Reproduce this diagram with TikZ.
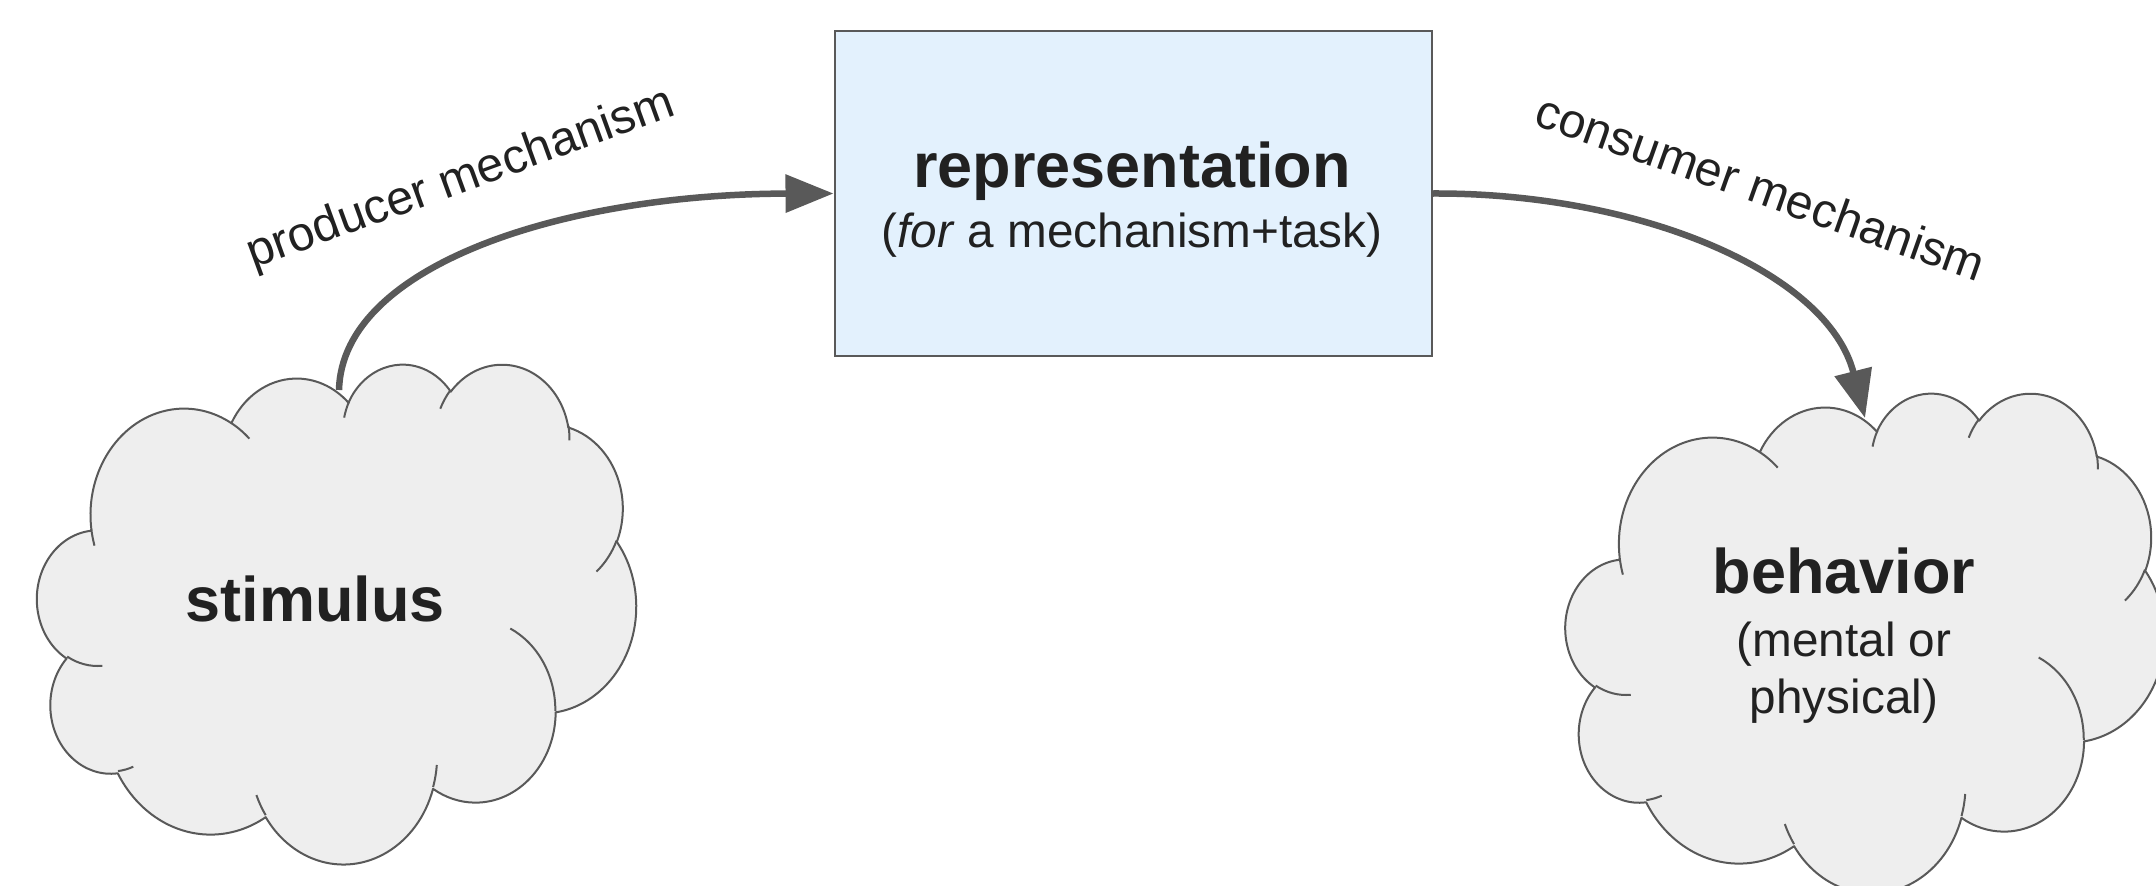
\documentclass[tikz,border=0pt]{standalone}
\usepackage{fontspec}
\setmainfont{Liberation Sans}
\usetikzlibrary{arrows.meta}
\definecolor{linegray}{HTML}{595959}
\definecolor{cloudfill}{HTML}{EEEEEE}
\definecolor{boxfill}{HTML}{E3F1FD}
\definecolor{txt}{HTML}{212121}
\tikzset{
  carc/.style n args={4}{
    start angle={atan2((#1)*sin(#3),(#2)*cos(#3))},
    delta angle={mod(atan2((#1)*sin((#3)+(#4)),(#2)*cos((#3)+(#4)))-atan2((#1)*sin(#3),(#2)*cos(#3))+720,360)},
    x radius=#1, y radius=#2},
  cloudbody/.style={fill=cloudfill, draw=linegray, line width=2pt, line join=round},
  cloudstub/.style={draw=linegray, line width=2pt},
  conn/.style={draw=linegray, line width=6.5pt, -{Triangle[length=48pt,width=37pt]}},
  bigtxt/.style={font=\fontsize{63}{70}\selectfont\bfseries, text=txt, inner sep=0pt},
  smalltxt/.style={font=\fontsize{47.7}{56}\selectfont, text=txt, inner sep=0pt},
  labtxt/.style={font=\fontsize{48.3}{56}\selectfont, text=txt, inner sep=0pt},
  repbox/.style={draw=linegray, line width=2pt, fill=boxfill, inner sep=0pt,
    minimum width=597pt, minimum height=325pt}
}
\newcommand\mycloud[4]{%
  \begin{scope}[shift={(#1,#2)}, xscale=#3, yscale=#4]
  \path[cloudbody] (3.9,14.37)
    arc[carc={6.753}{9.190}{-190.48748}{123.78053}]
    arc[carc={5.333}{7.267}{-144.10238}{89.94523}]
    arc[carc={4.365}{5.945}{-145.80792}{99.72302}]
    arc[carc={4.857}{6.595}{-130.98607}{117.24173}]
    arc[carc={5.333}{7.273}{-78.70888}{109.02692}]
    arc[carc={6.775}{9.220}{-46.26725}{130.269}]
    arc[carc={5.785}{7.867}{0.62502}{114.03333}]
    arc[carc={6.752}{9.215}{22.4516}{115.17255}]
    arc[carc={7.720}{10.543}{66.24263}{75.71102}]
    arc[carc={4.360}{5.918}{-274.94208}{146.73557}]
    arc[carc={4.345}{5.945}{-246.8285}{152.51885}]
    -- cycle;
  \path[cloudstub]
    (4.693,26.177) arc[carc={4.345}{5.945}{86.742}{26.4295}]
    (6.928,34.899) arc[carc={4.360}{5.918}{73.61047}{11.44747}]
    (16.478,39.090) arc[carc={6.752}{9.215}{137.62415}{14.0811}]
    (28.827,34.751) arc[carc={6.752}{9.215}{6.45327}{15.99835}]
    (34.129,22.954) arc[carc={5.785}{7.867}{-70.29235}{70.91737}]
    (41.798,15.354) arc[carc={5.333}{7.273}{30.31803}{27.7515}]
    (38.324,5.426) arc[carc={4.857}{6.595}{-13.74433}{14.8589}]
    (29.078,3.952) arc[carc={4.857}{6.595}{-149.18145}{18.19537}]
    (22.141,4.720) arc[carc={4.365}{5.945}{-163.49427}{17.68635}]
    (14.000,5.192) arc[carc={6.753}{9.190}{-66.70695}{12.31935}]
    (4.127,15.789) arc[carc={6.753}{9.190}{157.65435}{11.85817}];
  \end{scope}}
\begin{document}
\begin{tikzpicture}[x=1pt, y=-1pt]
\clip (0,0) rectangle (2156,886);
\fill[white] (0,0) rectangle (2156,886);
% clouds
\mycloud{37.3}{363}{13.8588}{11.5671}
\mycloud{1565.7}{392}{13.8588}{11.5671}
% representation box
\node[repbox, anchor=north west] (rep) at (833.5,30) {};
\node[bigtxt, anchor=base] (reptitle) at (1132,187) {representation};
\node[smalltxt, anchor=base] (repsub) at (1132,247) {(\textit{for} a mechanism+task)};
% cloud texts
\node[bigtxt, anchor=base] (stim) at (315,621) {stimulus};
\node[bigtxt, anchor=base] (bhv) at (1844,593) {behavior};
\node[smalltxt, anchor=base] (bhvsuba) at (1844,656) {(mental or};
\node[smalltxt, anchor=base] (bhvsubb) at (1844,713) {physical)};
% connector ends on the clouds
\coordinate (stimtop) at (339,390);
\coordinate (bhvtop) at (1865,418);
% connectors
\draw[conn] (stimtop) .. controls (342,265) and (565,194) .. (rep.west);
\draw[conn] (rep.east) .. controls (1640,192.5) and (1828,272.6) .. (bhvtop);
% labels
\node[labtxt, rotate=20] (prodlab) at (461,180) {producer mechanism};
\node[labtxt, rotate=-19.5] (conslab) at (1761,187) {consumer mechanism};
\end{tikzpicture}
\end{document}
